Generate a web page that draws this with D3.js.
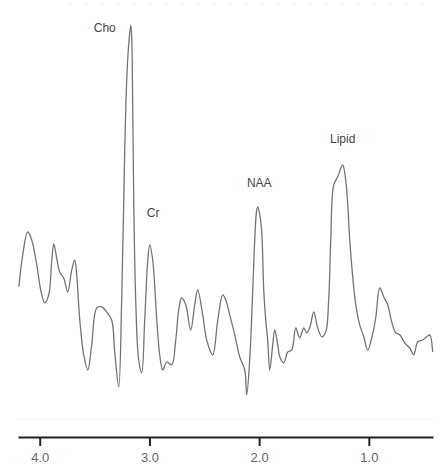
<!DOCTYPE html>
<html>
<head>
<meta charset="utf-8">
<script src="https://cdn.jsdelivr.net/npm/d3@7"></script>
<style>
  html, body { margin: 0; padding: 0; background: #fff; }
  svg { display: block; }
  text { font-family: "Liberation Sans", Arial, sans-serif; }
</style>
</head>
<body>
<svg id="chart" width="443" height="468"></svg>
<script>
// Chemical shift (ppm) and signal intensity (arbitrary units)
const ppm = [4.19,4.155,4.11,4.073,4.027,3.991,3.954,3.918,3.891,3.872,3.845,3.818,3.781,3.745,3.708,3.681,3.663,3.635,3.599,3.562,3.526,3.48,3.435,3.389,3.344,3.316,3.28,3.253,3.225,3.207,3.189,3.17,3.161,3.152,3.143,3.125,3.098,3.07,3.043,3.015,2.997,2.97,2.933,2.906,2.879,2.842,2.797,2.76,2.733,2.706,2.669,2.624,2.587,2.56,2.514,2.478,2.423,2.377,2.332,2.304,2.268,2.222,2.177,2.131,2.113,2.086,2.058,2.04,2.022,2.012,1.994,1.976,1.958,1.94,1.922,1.903,1.876,1.858,1.83,1.812,1.776,1.739,1.703,1.666,1.63,1.593,1.566,1.539,1.502,1.466,1.429,1.393,1.366,1.347,1.32,1.284,1.238,1.211,1.192,1.174,1.147,1.119,1.083,1.046,1.01,0.974,0.937,0.901,0.864,0.828,0.791,0.755,0.718,0.673,0.627,0.591,0.554,0.509,0.463,0.444,0.418];
const intensity = [33.3,41.3,47.0,45.0,38.8,32.5,29.3,31.3,39.5,44.0,40.5,37.0,35.5,32.0,37.5,40.0,36.3,25.0,16.3,12.5,18.8,28.0,28.3,27.0,25.0,16.8,8.3,30.0,67.5,85.0,93.8,98.8,95.0,77.5,55.0,30.0,15.0,11.8,25.0,40.0,43.8,40.0,25.0,16.3,12.5,14.5,13.8,20.0,27.5,30.5,28.8,22.5,28.8,32.5,26.3,20.0,16.3,25.0,31.3,30.0,26.3,21.3,15.8,12.5,6.3,15.0,32.5,45.0,52.5,53.3,51.3,47.0,32.5,25.0,20.0,12.5,18.8,22.5,18.8,15.8,14.3,17.0,17.5,23.0,20.5,23.0,21.8,23.0,27.0,23.0,20.8,22.0,30.0,45.0,58.8,60.8,63.8,60.0,53.8,45.0,35.8,28.8,23.8,20.8,17.5,20.5,25.5,33.0,30.8,28.8,24.5,21.8,21.3,19.3,18.0,16.3,19.5,20.0,21.0,21.3,17.0];

const peakNames = ["Cho", "Cr", "NAA", "Lipid"];
const peakPpm = [3.17, 2.997, 2.012, 1.238];
const peakIntensity = [98.8, 43.8, 53.3, 63.8];

const tickValues = [4.0, 3.0, 2.0, 1.0];

const svg = d3.select("#chart");

const x = d3.scaleLinear().domain([4.198, 0.415]).range([18, 433]);
const y = d3.scaleLinear().domain([0, 100]).range([420, 20]);

// faint scan artefacts: dotted top border and a faint lower rule
svg.append("line")
  .attr("x1", 70).attr("x2", 430).attr("y1", 4).attr("y2", 4)
  .attr("stroke", "#e6e6e6").attr("stroke-width", 1.2)
  .attr("stroke-dasharray", "1.5,14.5");
svg.append("line")
  .attr("x1", 18).attr("x2", 433).attr("y1", 419).attr("y2", 419)
  .attr("stroke", "#f2f2f2").attr("stroke-width", 1);

const data = ppm.map((p, i) => ({ p, v: intensity[i] }));

const line = d3.line()
  .x(d => x(d.p))
  .y(d => y(d.v))
  .curve(d3.curveCatmullRom.alpha(0.5));

svg.append("path")
  .datum(data)
  .attr("fill", "none")
  .attr("stroke", "#747474")
  .attr("stroke-width", 1.3)
  .attr("stroke-linejoin", "round")
  .attr("d", line);

// Axis
const axis = d3.axisBottom(x)
  .tickValues(tickValues)
  .tickFormat(d3.format(".1f"))
  .tickSizeOuter(0)
  .tickSizeInner(9)
  .tickPadding(7);

const gAxis = svg.append("g")
  .attr("transform", "translate(0,437)")
  .call(axis);

gAxis.select(".domain")
  .attr("stroke", "#222")
  .attr("stroke-width", 2.2);
gAxis.selectAll(".tick line")
  .attr("stroke", "#222")
  .attr("stroke-width", 2);
gAxis.selectAll(".tick text")
  .attr("fill", "#666")
  .attr("font-size", 13)
  .attr("font-family", "'Liberation Sans', Arial, sans-serif");

// Peak labels
const labelOffsets = [
  { dx: -15, dy: 7, anchor: "end" },
  { dx: -3, dy: -28, anchor: "start" },
  { dx: 1.5, dy: -20, anchor: "middle" },
  { dx: 0, dy: -22, anchor: "middle" }
];

svg.append("g").selectAll("text")
  .data(peakNames)
  .join("text")
  .attr("x", (d, i) => x(peakPpm[i]) + labelOffsets[i].dx)
  .attr("y", (d, i) => y(peakIntensity[i]) + labelOffsets[i].dy)
  .attr("text-anchor", (d, i) => labelOffsets[i].anchor)
  .attr("font-size", 12)
  .attr("fill", "#444")
  .text(d => d);
</script>
</body>
</html>
